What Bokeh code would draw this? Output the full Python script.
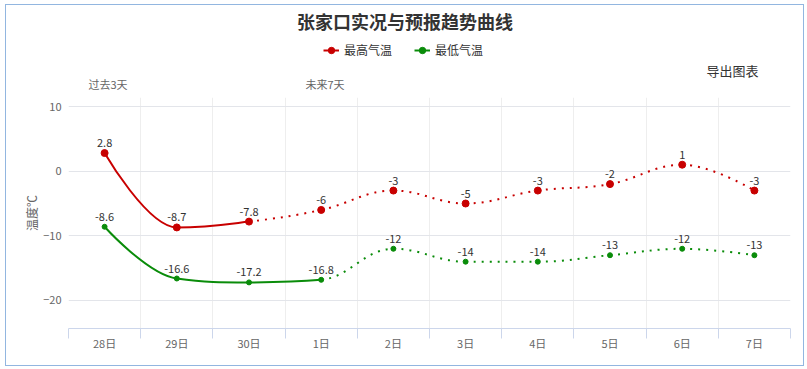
from bokeh.plotting import figure
from bokeh.layouts import column
from bokeh.models import FixedTicker, Legend, LegendItem, Range1d
from bokeh.core.properties import value
from bokeh.embed import file_html
from bokeh.resources import INLINE

# ---- data ----
days = ["28日", "29日", "30日", "1日", "2日", "3日", "4日", "5日", "6日", "7日"]
t_max = [2.8, -8.7, -7.8, -6, -3, -5, -3, -2, 1, -3]
t_min = [-8.6, -16.6, -17.2, -16.8, -12, -14, -14, -13, -12, -13]
max_solid_until = 2   # observed part of the max series ends at this index
min_solid_until = 3   # observed part of the min series ends at this index
y_ticks = [-20, -10, 0, 10]
band_labels = ["过去3天", "未来7天"]
title_text = "张家口实况与预报趋势曲线"
export_text = "导出图表"
y_title = "温度℃"
legend_names = ["最高气温", "最低气温"]

RED = "#c80000"
GREEN = "#0a8c0a"
FONT = "Noto Sans CJK SC"

# ---- layout geometry (page pixels) ----
CX0, CY0 = 6, 5          # content origin inside border
CX1, CY1 = 803, 365      # content end (border position)
W = CX1 - CX0
SPLIT = 92               # page y where the chart figure starts
L, R, T, B = 68, 790, 97, 328
YTOP, YBOT = 11.392, -24.33
XL, XR = -0.5, len(days) - 0.5

# ---------- header figure (title, legend, notes); its frame aligns with chart frame ----------
top = figure(width=W, height=SPLIT - CY0, output_backend="svg", toolbar_location=None,
             x_range=Range1d(L, R), y_range=Range1d(SPLIT, CY0),
             min_border=0, border_fill_color="white", background_fill_color="white")
top.axis.visible = False
top.grid.visible = False
top.outline_line_color = None

top.text([404.5], [20], text=[title_text], text_align="center", text_baseline="middle",
         text_font=value(FONT), text_font_size="18px", text_font_style="bold",
         text_color="#333333")
top.text([706], [70], text=[export_text], text_align="left", text_baseline="middle",
         text_font=value(FONT), text_font_size="13px", text_color="#333333")
top.text([88, 305], [83, 83], text=band_labels, text_align="left", text_baseline="middle",
         text_font=value(FONT), text_font_size="11px", text_color="#666666")

# legend-only renderers, kept outside the visible range
off = [L - 50, L - 40]
lr1 = top.line(off, [50, 50], line_color=RED, line_width=2)
sr1 = top.scatter(off[:1], [50], size=7, color=RED)
lr2 = top.line(off, [50, 50], line_color=GREEN, line_width=2)
sr2 = top.scatter(off[:1], [50], size=5, color=GREEN)
legend = Legend(items=[LegendItem(label=legend_names[0], renderers=[lr1, sr1]),
                       LegendItem(label=legend_names[1], renderers=[lr2, sr2])],
                orientation="horizontal", location=(323 - L, SPLIT - 58),
                glyph_width=16, glyph_height=16, label_standoff=5, spacing=22,
                padding=0, margin=0, border_line_color=None, background_fill_alpha=0,
                label_text_font=FONT, label_text_font_size="12px",
                label_text_color="#333333", label_height=16)
top.add_layout(legend, "center")

# ---------- chart figure ----------
p = figure(width=W, height=CY1 - SPLIT, output_backend="svg", toolbar_location=None,
           x_range=Range1d(XL, XR), y_range=Range1d(YBOT, YTOP),
           min_border_left=L - CX0, min_border_right=CX1 - R,
           min_border_top=T - SPLIT, min_border_bottom=CY1 - B,
           background_fill_color="white", border_fill_color="white")
p.outline_line_color = None

centers = list(range(len(days)))
bounds = [i - 0.5 for i in range(len(days) + 1)]
p.xaxis.ticker = FixedTicker(ticks=centers, minor_ticks=bounds)
p.xaxis.major_label_overrides = {i: d for i, d in enumerate(days)}
p.xaxis.major_tick_out = 0
p.xaxis.major_tick_in = 0
p.xaxis.minor_tick_out = 10
p.xaxis.minor_tick_in = 0
p.xaxis.minor_tick_line_color = "#ccd6eb"
p.xaxis.axis_line_color = "#ccd6eb"
p.xaxis.major_label_standoff = -4
p.xaxis.major_label_text_font = FONT
p.xaxis.major_label_text_font_size = "11px"
p.xaxis.major_label_text_color = "#666666"
p.xgrid.grid_line_color = None
p.xgrid.minor_grid_line_color = "#eeeeee"

p.yaxis.ticker = FixedTicker(ticks=y_ticks)
p.yaxis.axis_line_color = None
p.yaxis.major_tick_line_color = None
p.yaxis.minor_tick_line_color = None
p.yaxis.major_label_standoff = 1
p.yaxis.major_label_text_font = FONT
p.yaxis.major_label_text_font_size = "11px"
p.yaxis.major_label_text_color = "#666666"
p.yaxis.axis_label = y_title
p.yaxis.axis_label_standoff = 0
p.yaxis.axis_label_text_font = FONT
p.yaxis.axis_label_text_font_size = "12px"
p.yaxis.axis_label_text_font_style = "normal"
p.yaxis.axis_label_text_color = "#666666"
p.ygrid.grid_line_color = "#e3e5ea"


def spline(xs, ys, smoothing=1.5):
    """Highcharts-style spline: cubic bezier segments through the points."""
    n = len(xs)
    rc = [None] * n
    lc = [None] * n
    denom = smoothing + 1
    for i in range(1, n - 1):
        px_, py_ = xs[i], ys[i]
        lx, ly = xs[i - 1], ys[i - 1]
        nx, ny = xs[i + 1], ys[i + 1]
        lcx = (smoothing * px_ + lx) / denom
        lcy = (smoothing * py_ + ly) / denom
        rcx = (smoothing * px_ + nx) / denom
        rcy = (smoothing * py_ + ny) / denom
        corr = ((rcy - lcy) * (rcx - px_)) / (rcx - lcx) + py_ - rcy
        lcy += corr
        rcy += corr
        if lcy > ly and lcy > py_:
            lcy = max(ly, py_); rcy = 2 * py_ - lcy
        elif lcy < ly and lcy < py_:
            lcy = min(ly, py_); rcy = 2 * py_ - lcy
        if rcy > ny and rcy > py_:
            rcy = max(ny, py_); lcy = 2 * py_ - rcy
        elif rcy < ny and rcy < py_:
            rcy = min(ny, py_); lcy = 2 * py_ - rcy
        lc[i] = (lcx, lcy)
        rc[i] = (rcx, rcy)
    segs = []
    for i in range(1, n):
        c0 = rc[i - 1] if rc[i - 1] else (xs[i - 1], ys[i - 1])
        c1 = lc[i] if lc[i] else (xs[i], ys[i])
        segs.append((xs[i - 1], ys[i - 1], xs[i], ys[i], c0[0], c0[1], c1[0], c1[1]))
    return segs


def draw_series(vals, color, solid_until, msize):
    xs = centers
    segs = spline(xs, vals)
    for dash, part in (("solid", segs[:solid_until]), ("2 6", segs[solid_until:])):
        if not part:
            continue
        cols = list(zip(*part))
        p.bezier(x0=list(cols[0]), y0=list(cols[1]), x1=list(cols[2]), y1=list(cols[3]),
                 cx0=list(cols[4]), cy0=list(cols[5]), cx1=list(cols[6]), cy1=list(cols[7]),
                 line_color=color, line_width=2, line_dash=dash)
    p.scatter(xs, vals, size=msize, color=color, line_color=color)
    p.text(xs, vals, text=[f"{v:g}" for v in vals], text_align="center",
           text_baseline="middle", y_offset=-10, text_font=value(FONT),
           text_font_size="11px", text_color="#333333")


draw_series(t_max, RED, max_solid_until, 7)
draw_series(t_min, GREEN, min_solid_until, 5)

layout = column(top, p, spacing=0)
layout.styles = {"border": "1px solid #92b6e0", "margin-left": f"{CX0 - 1}px",
                 "margin-top": f"{CY0 - 1}px"}

open("out.html", "w").write(file_html(layout, INLINE))
